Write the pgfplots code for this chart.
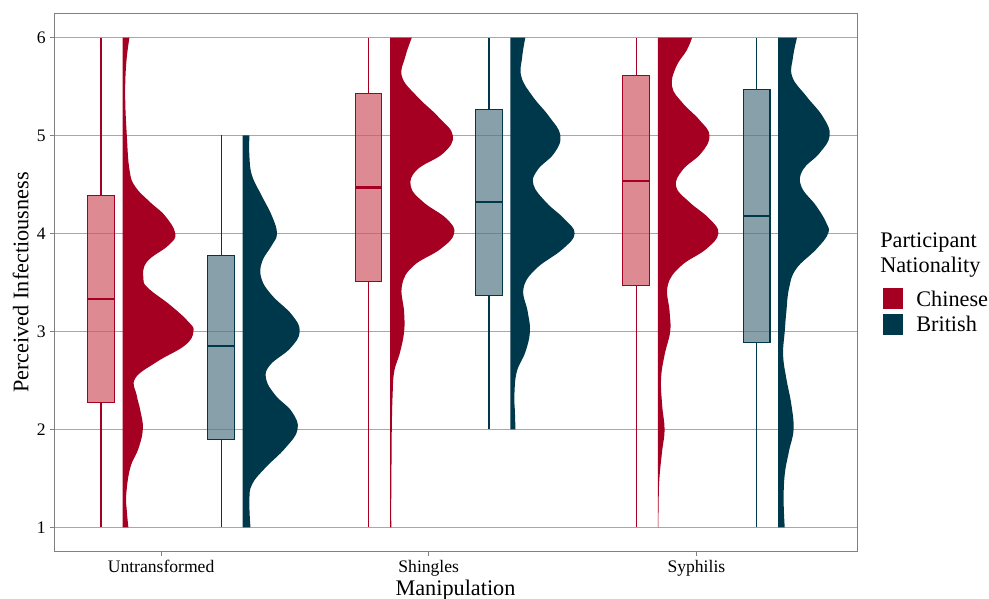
\documentclass[border=0pt]{standalone}
\usepackage{pgfplots}
\pgfplotsset{compat=1.18}
\usepackage{pgfplotstable}
\usepgfplotslibrary{statistics}
\usepackage{fontspec}
\setmainfont{Liberation Serif}

\definecolor{chred}{HTML}{A50021}
\definecolor{chlight}{HTML}{D05865}
\definecolor{brblue}{HTML}{00384B}
\definecolor{brlight}{HTML}{557784}
\definecolor{gridgray}{HTML}{A8A8A8}
\definecolor{framegray}{HTML}{808080}

\newcommand\tickfont{\fontsize{13.2}{15}\selectfont}
\newcommand\titlefont{\fontsize{16.7}{20}\selectfont}

% violin half-widths (x units) at perceived-infectiousness values
\pgfplotstableread{
y w
1.00 0.022
1.17 0.016
1.34 0.014
1.61 0.029
1.81 0.060
2.01 0.076
2.20 0.066
2.35 0.053
2.52 0.047
2.69 0.128
2.86 0.234
3.00 0.265
3.10 0.246
3.27 0.178
3.44 0.097
3.54 0.078
3.71 0.091
3.88 0.172
4.00 0.197
4.18 0.159
4.32 0.103
4.48 0.047
4.65 0.026
5.00 0.016
5.40 0.010
5.74 0.014
6.00 0.026
}\vCU
\pgfplotstableread{
y w
1.00 0.029
1.27 0.025
1.44 0.035
1.61 0.085
1.81 0.159
2.00 0.205
2.18 0.184
2.35 0.122
2.52 0.087
2.66 0.103
2.83 0.178
3.00 0.213
3.17 0.184
3.37 0.109
3.54 0.070
3.71 0.072
3.88 0.109
4.00 0.128
4.18 0.109
4.38 0.072
4.59 0.035
4.79 0.025
5.00 0.025
}\vBU
\pgfplotstableread{
y w
1.00 0.004
1.34 0.004
1.68 0.005
2.01 0.006
2.35 0.009
2.59 0.015
2.79 0.037
3.00 0.052
3.20 0.052
3.47 0.044
3.67 0.087
3.84 0.187
4.00 0.239
4.15 0.211
4.32 0.124
4.48 0.077
4.65 0.100
4.82 0.199
5.00 0.234
5.19 0.180
5.40 0.100
5.60 0.044
5.80 0.056
6.00 0.081
}\vCS
\pgfplotstableread{
y w
2.00 0.019
2.18 0.017
2.35 0.015
2.59 0.024
2.79 0.056
3.00 0.073
3.20 0.065
3.44 0.049
3.64 0.096
3.84 0.195
4.00 0.240
4.15 0.201
4.32 0.133
4.50 0.086
4.65 0.102
4.82 0.164
5.00 0.187
5.19 0.146
5.40 0.083
5.60 0.041
5.80 0.044
6.00 0.056
}\vBS
\pgfplotstableread{
y w
1.00 0.002
1.27 0.003
1.51 0.006
1.78 0.016
2.00 0.025
2.25 0.016
2.52 0.012
2.76 0.025
3.00 0.046
3.20 0.044
3.47 0.037
3.67 0.087
3.84 0.180
4.00 0.226
4.15 0.193
4.32 0.118
4.48 0.068
4.65 0.093
4.82 0.162
5.00 0.193
5.16 0.155
5.33 0.093
5.50 0.053
5.70 0.068
5.87 0.108
6.00 0.128
}\vCY
\pgfplotstableread{
y w
1.00 0.025
1.27 0.021
1.54 0.025
1.78 0.041
2.00 0.058
2.25 0.050
2.52 0.031
2.76 0.019
3.00 0.025
3.20 0.031
3.44 0.041
3.64 0.068
3.84 0.143
4.00 0.187
4.11 0.180
4.28 0.143
4.48 0.087
4.65 0.093
4.82 0.155
5.00 0.193
5.19 0.168
5.40 0.106
5.60 0.053
5.80 0.056
6.00 0.071
}\vBY

% #1 table, #2 base x, #3 colour, #4 lowest y, #5 highest y
\newcommand\violin[5]{%
  \addplot[forget plot, fill=#3, draw=none, smooth, tension=0.7]
    table[x expr=\thisrow{w}+#2, y=y] {#1}
    -- (axis cs:#2,#5) -- (axis cs:#2,#4) -- cycle;
}
% #1 position, #2 lw, #3 lq, #4 med, #5 uq, #6 uw, #7 dark, #8 light
\newcommand\bplot[8]{%
  \addplot[forget plot, draw=#7, fill=#8, fill opacity=0.7, line width=0.8pt,
    boxplot/draw direction=y,
    boxplot prepared={draw position=#1, lower whisker=#2, lower quartile=#3,
      median=#4, upper quartile=#5, upper whisker=#6, box extend=0.1,
      whisker extend=0,
      every median/.style={line width=1.6pt},
      every whisker/.style={line width=1pt}}]
    coordinates {};
}

\begin{document}
\begin{tikzpicture}
\path[use as bounding box] (0,0) rectangle (741.75pt,449.25pt);
\begin{axis}[
  at={(40.5pt,35.25pt)}, anchor=south west,
  scale only axis, width=602.25pt, height=404.25pt,
  xmin=0.6, xmax=3.6, ymin=0.75, ymax=6.25,
  xtick={1,2,3}, xticklabels={Untransformed,Shingles,Syphilis},
  ytick={1,2,3,4,5,6},
  tick align=outside, major tick length=3pt,
  xtick pos=bottom, ytick pos=left,
  tick style={framegray, line width=0.75pt},
  axis line style={framegray, line width=0.75pt},
  ymajorgrids, grid style={gridgray, line width=0.75pt},
  /pgf/number format/assume math mode=true,
  ticklabel style={font=\tickfont},
  yticklabel style={inner sep=0pt, xshift=-3pt},
  xticklabel style={inner sep=0pt, anchor=base, yshift=-12.75pt},
  xlabel={Manipulation}, ylabel={Perceived Infectiousness},
  label style={font=\titlefont},
  xlabel style={at={(axis description cs:0.5,-0.0798)}, anchor=base, inner sep=0pt},
  ylabel style={at={(axis description cs:-0.0415,0.5)}, anchor=center, inner sep=0pt},
  legend style={at={(axis description cs:1.0324,0.4898)}, anchor=north west,
    draw=none, fill=none, inner sep=0pt, outer sep=0pt,
    row sep=3.4pt, column sep=10pt, font=\titlefont,
    nodes={inner sep=0pt, outer sep=0pt, text depth=0pt},
    cells={anchor=west}},
]
\addlegendimage{fill=chred, draw=none, legend image code/.code={\fill (0pt,-7.875pt) rectangle (15pt,7.875pt);}}
\addlegendentry{Chinese}
\addlegendimage{fill=brblue, draw=none, legend image code/.code={\fill (0pt,-7.875pt) rectangle (15pt,7.875pt);}}
\addlegendentry{British}

\violin{\vCU}{0.856}{chred}{1}{6}
\violin{\vBU}{1.305}{brblue}{1}{5}
\violin{\vCS}{1.856}{chred}{1}{6}
\violin{\vBS}{2.305}{brblue}{2}{6}
\violin{\vCY}{2.856}{chred}{1}{6}
\violin{\vBY}{3.305}{brblue}{1}{6}

\bplot{0.775}{1}{2.28}{3.33}{4.39}{6}{chred}{chlight}
\bplot{1.225}{1}{1.90}{2.85}{3.78}{5}{brblue}{brlight}
\bplot{1.775}{1}{3.51}{4.47}{5.43}{6}{chred}{chlight}
\bplot{2.225}{2}{3.37}{4.32}{5.27}{6}{brblue}{brlight}
\bplot{2.775}{1}{3.47}{4.54}{5.61}{6}{chred}{chlight}
\bplot{3.225}{1}{2.89}{4.18}{5.47}{6}{brblue}{brlight}
\end{axis}
\node[anchor=base west, inner sep=0pt, font=\titlefont] at (660pt,263.25pt) {Participant};
\node[anchor=base west, inner sep=0pt, font=\titlefont] at (660pt,244.5pt) {Nationality};
\end{tikzpicture}
\end{document}
